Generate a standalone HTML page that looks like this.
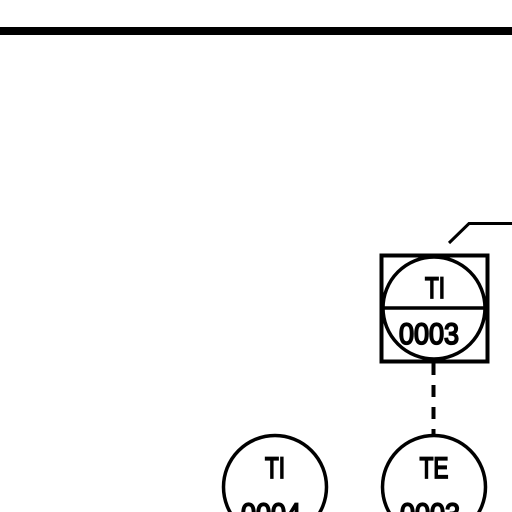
<!DOCTYPE html>
<html><head><style>html,body{margin:0;padding:0;background:#fff;width:512px;height:512px;overflow:hidden}svg{display:block;overflow:hidden}</style></head>
<body>
<svg width="512" height="512" viewBox="0 0 512 512" xmlns="http://www.w3.org/2000/svg">
<rect x="0" y="27" width="512" height="8" fill="#000"/>
<polyline points="449,243 469,223.5 512,223.5" fill="none" stroke="#000" stroke-width="3"/>
<rect x="381.5" y="255.5" width="106" height="106" fill="none" stroke="#000" stroke-width="4"/>
<circle cx="434" cy="308" r="51" fill="none" stroke="#000" stroke-width="3.5"/>
<line x1="383" y1="308" x2="485" y2="308" stroke="#000" stroke-width="3.5"/>
<line x1="433.5" y1="363" x2="433.5" y2="436" stroke="#000" stroke-width="4" stroke-dasharray="12,10"/>
<circle cx="275" cy="487" r="51.5" fill="none" stroke="#000" stroke-width="3.5"/>
<circle cx="434" cy="487" r="51.5" fill="none" stroke="#000" stroke-width="3.5"/>
<g font-family="Liberation Sans, sans-serif" font-size="30" text-anchor="middle" fill="#000" stroke="#000" stroke-width="1.8">
<text x="0" y="0" transform="translate(435,298) scale(0.75,1)">TI</text>
<text x="0" y="0" transform="translate(429,344) scale(0.9,1)">0003</text>
<text x="0" y="0" transform="translate(275,478) scale(0.75,1)">TI</text>
<text x="0" y="0" transform="translate(271,524) scale(0.9,1)">0004</text>
<text x="0" y="0" transform="translate(434,478) scale(0.75,1)">TE</text>
<text x="0" y="0" transform="translate(430,524) scale(0.9,1)">0003</text>
</g>
</svg>
</body></html>
